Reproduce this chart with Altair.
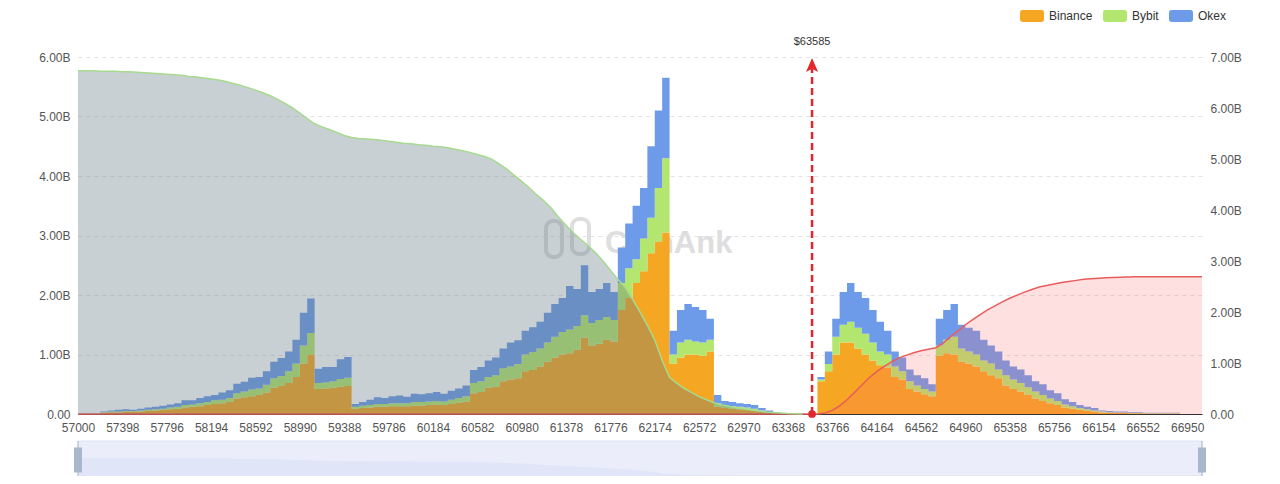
import altair as alt
import pandas as pd

FONT = "Liberation Sans"

# ---- price bins (category axis) ----
PRICE_START = 57000
PRICE_STEP = 398 / 6
N_BINS = 152
X_MAX = 67083
TICK_PRICES = [57000, 57398, 57796, 58194, 58592, 58990, 59388, 59786, 60184,
               60582, 60980, 61378, 61776, 62174, 62572, 62970, 63368, 63766,
               64164, 64562, 64960, 65358, 65756, 66154, 66552, 66950]
CURRENT_PRICE = 63585
EXCHANGES = ["Binance", "Bybit", "Okex"]
EXCHANGE_COLORS = ["#F5A623", "#B3E66F", "#6E9BE9"]

# ---- liquidation per bin (billions USD) ----
BINANCE = [0, 0, 0, .02, .03, .03, .04, .04, .04, .05, .06, .07, .08, .09, .11, .12, .13, .15, .17, .18,
           .20, .26, .28, .30, .32, .36, .44, .47, .52, .62, .85, 1.00, .42, .43, .44, .46, .47, .09, .10, .11,
           .12, .12, .13, .13, .13, .14, .14, .15, .16, .15, .17, .19, .21, .35, .37, .44, .46, .55, .58, .60,
           .72, .74, .80, .88, .95, 1.00, 1.02, 1.08, 1.28, 1.15, 1.18, 1.25, 1.22, 1.75, 1.95, 2.20, 2.40, 2.70, 2.90, 3.05,
           .85, .95, 1.00, 1.00, .98, 1.05, .12, .10, .09, .08, .07, .06, .04, .02, .01, 0, 0, 0, 0, 0,
           .55, .72, 1.00, 1.20, 1.20, 1.10, 1.00, .90, .82, .78, .62, .58, .42, .38, .33, .30, .98, 1.02, 1.00, .88,
           .85, .80, .72, .65, .60, .48, .42, .38, .32, .26, .22, .18, .15, .11, .09, .07, .05, .04, .025, .02,
           .015, .015, .012, .012, .008, .008, .008, .008, .008, 0, 0, 0]
BYBIT = [0, 0, 0, .01, .01, .01, .01, .01, .02, .02, .02, .02, .03, .03, .04, .04, .05, .05, .06, .06,
         .07, .09, .10, .11, .11, .13, .16, .17, .20, .23, .30, .36, .10, .10, .11, .13, .14, .03, .04, .04,
         .05, .05, .05, .05, .05, .06, .06, .06, .06, .06, .07, .08, .09, .17, .18, .18, .19, .22, .22, .24,
         .28, .30, .30, .32, .35, .38, .40, .40, .38, .38, .40, .38, .36, .45, .50, .40, .55, .60, .90, 1.25,
         .15, .25, .25, .22, .22, .20, .06, .04, .04, .04, .04, .03, .02, .01, .01, 0, 0, 0, 0, 0,
         .03, .12, .30, .30, .35, .35, .35, .30, .23, .22, .18, .14, .13, .10, .09, .08, .17, .23, .30, .22,
         .20, .20, .18, .20, .15, .17, .16, .14, .13, .12, .10, .08, .07, .05, .04, .03, .03, .02, .015, .01,
         .01, .01, .006, .006, .005, .005, .005, .005, .005, 0, 0, 0]
OKEX = [0, 0, 0, .01, .02, .03, .03, .02, .03, .04, .04, .05, .05, .06, .08, .07, .09, .10, .09, .12,
        .13, .16, .16, .20, .19, .23, .28, .30, .33, .40, .55, .58, .24, .26, .24, .33, .35, .05, .06, .09,
        .11, .10, .12, .13, .11, .14, .13, .14, .15, .13, .15, .16, .18, .22, .24, .28, .30, .33, .40, .40,
        .40, .42, .45, .50, .55, .57, .73, .62, .84, .52, .52, .57, .47, .60, .75, .90, .85, 1.20, 1.30, 1.35,
        .40, .55, .60, .58, .55, .35, .14, .08, .07, .06, .06, .06, .04, .03, .01, 0, 0, 0, 0, 0,
        .04, .21, .30, .55, .65, .60, .60, .55, .50, .40, .25, .23, .20, .17, .18, .12, .45, .50, .55, .40,
        .40, .40, .35, .30, .30, .25, .22, .23, .20, .17, .18, .14, .13, .09, .07, .05, .04, .04, .02, .02,
        .015, .015, .012, .012, .007, .007, .007, .007, .007, 0, 0, 0]

# ---- cumulative liquidation (billions USD, right axis) ----
LONG_CUM = [6.73, 6.73, 6.73, 6.72, 6.72, 6.72, 6.71, 6.71, 6.70, 6.69, 6.68, 6.67, 6.66, 6.65, 6.64,
            6.62, 6.61, 6.59, 6.57, 6.55, 6.52, 6.48, 6.44, 6.40, 6.35, 6.30, 6.24, 6.17, 6.09, 6.00,
            5.90, 5.79, 5.69, 5.63, 5.58, 5.52, 5.46, 5.42, 5.40, 5.39, 5.38, 5.37, 5.35, 5.33, 5.31,
            5.30, 5.28, 5.27, 5.25, 5.24, 5.22, 5.19, 5.16, 5.13, 5.09, 5.05, 4.99, 4.90, 4.80, 4.68,
            4.56, 4.44, 4.30, 4.18, 4.04, 3.86, 3.70, 3.55, 3.42, 3.30, 3.16, 3.00, 2.82, 2.64, 2.48,
            2.25, 2.00, 1.74, 1.45, 1.05, 0.72, 0.60, 0.50, 0.42, 0.34, 0.28, 0.22, 0.18, 0.15, 0.12,
            0.10, 0.08, 0.06, 0.04, 0.03, 0.02, 0.01, 0.005, 0]
SHORT_CUM = [0] * 101 + [0.02, 0.07, 0.16, 0.28, 0.42, 0.57, 0.71, 0.83, 0.93, 1.02, 1.10, 1.15, 1.20,
                         1.24, 1.27, 1.30, 1.39, 1.52, 1.63, 1.75, 1.85, 1.95, 2.04, 2.12, 2.20, 2.27,
                         2.33, 2.39, 2.44, 2.49, 2.52, 2.55, 2.58, 2.60, 2.62, 2.64, 2.65, 2.66, 2.67,
                         2.675, 2.68, 2.685, 2.69, 2.69, 2.69, 2.69, 2.69, 2.69, 2.69, 2.69, 2.69, 2.69]

prices = [PRICE_START + i * PRICE_STEP for i in range(N_BINS + 1)]

rows = []
for k, (name, vals) in enumerate(zip(EXCHANGES, [BINANCE, BYBIT, OKEX])):
    for i, v in enumerate(vals):
        rows.append({"price": prices[i], "exchange": name, "value": v, "ord": k})
bars_df = pd.DataFrame(rows)
long_df = pd.DataFrame({"price": prices[:len(LONG_CUM)], "cum": LONG_CUM})
short_df = pd.DataFrame({"price": prices[:len(SHORT_CUM)], "cum": SHORT_CUM})
cur_df = pd.DataFrame({"price": [CURRENT_PRICE], "label": [f"${CURRENT_PRICE}"]})
range_df = pd.DataFrame({"price": [PRICE_START, X_MAX]})
one_df = pd.DataFrame({"k": [0]})

W, H = 1124, 357
LABEL_COLOR = "#555555"

x_scale = alt.Scale(domain=[PRICE_START, X_MAX], nice=False, zero=False)
x_enc = alt.X("price:Q", scale=x_scale,
              axis=alt.Axis(values=TICK_PRICES, format="d", title=None, grid=False, ticks=False,
                            labelPadding=8, labelFontSize=12, labelFont=FONT, labelColor=LABEL_COLOR,
                            domainColor="#333333", domainWidth=1, labelOverlap=False, labelFlush=False))

ROUND_RECT = ("M-0.8,-0.5L0.8,-0.5Q1,-0.5,1,-0.3L1,0.3Q1,0.5,0.8,0.5L-0.8,0.5"
              "Q-1,0.5,-1,0.3L-1,-0.3Q-1,-0.5,-0.8,-0.5Z")

# watermark
WM = "#DEDEDE"
wm_text = alt.Chart(one_df).mark_text(
    text="CoinAnk", font=FONT, fontSize=31, fontWeight="bold", color=WM,
    align="left", baseline="middle").encode(x=alt.value(527), y=alt.value(187))
wm_logo1 = alt.Chart(one_df).mark_rect(fill=None, stroke=WM, strokeWidth=4, cornerRadius=7).encode(
    x=alt.value(468), x2=alt.value(484), y=alt.value(164), y2=alt.value(200))
wm_logo2 = alt.Chart(one_df).mark_rect(fill=None, stroke=WM, strokeWidth=4, cornerRadius=7).encode(
    x=alt.value(494), x2=alt.value(511), y=alt.value(162), y2=alt.value(197))

bars = alt.Chart(bars_df).mark_area(interpolate="step-after").encode(
    x=x_enc,
    y=alt.Y("value:Q", stack="zero",
            scale=alt.Scale(domain=[0, 6], nice=False),
            axis=alt.Axis(values=[0, 1, 2, 3, 4, 5, 6], orient="left", title=None,
                          labelExpr="datum.value == 0 ? '0.00' : format(datum.value, '.2f') + 'B'",
                          grid=True, gridDash=[4, 4], gridColor="#E3E3E3", domain=False, ticks=False,
                          labelPadding=8, labelFont=FONT, labelFontSize=12, labelColor=LABEL_COLOR)),
    color=alt.Color("exchange:N", sort=EXCHANGES,
                    scale=alt.Scale(domain=EXCHANGES, range=EXCHANGE_COLORS),
                    legend=alt.Legend(title=None, orient="none", legendX=942, legendY=-53,
                                      direction="horizontal", symbolType=ROUND_RECT, symbolSize=576,
                                      symbolStrokeWidth=0, symbolOpacity=1, labelFont=FONT,
                                      labelFontSize=12, labelColor="#333333", labelOffset=5,
                                      columnPadding=10, padding=0)),
    order=alt.Order("ord:Q", sort="ascending"),
)

pink = alt.Chart(short_df).mark_area(fill="#FF6464", fillOpacity=0.2,
                                     line={"color": "#E85C5C", "strokeWidth": 1.5}).encode(
    x=x_enc,
    y=alt.Y("cum:Q", scale=alt.Scale(domain=[0, 7], nice=False), axis=None))

gray = alt.Chart(long_df).mark_area(fill="#647882", fillOpacity=0.35,
                                    line={"color": "#A6DA8E", "strokeWidth": 1.5}).encode(
    x=x_enc,
    y=alt.Y("cum:Q", scale=alt.Scale(domain=[0, 7], nice=False),
            axis=alt.Axis(values=[0, 1, 2, 3, 4, 5, 6, 7], orient="right", title=None,
                          labelExpr="datum.value == 0 ? '0.00' : format(datum.value, '.2f') + 'B'",
                          grid=False, domain=False, ticks=False, labelPadding=8,
                          labelFont=FONT, labelFontSize=12, labelColor=LABEL_COLOR)))

RED = "#E3262C"
rule = alt.Chart(cur_df).mark_rule(color=RED, strokeWidth=2.5, strokeDash=[7, 4]).encode(
    x="price:Q", y=alt.value(H), y2=alt.value(12))
arrow = alt.Chart(cur_df).mark_point(shape="M0,-1L0.7,0.6L0,0.25L-0.7,0.6Z", filled=True,
                                     color=RED, size=300, opacity=1).encode(
    x="price:Q", y=alt.value(9.7))
dot = alt.Chart(cur_df).mark_point(shape="circle", filled=True, color=RED, size=60, opacity=1).encode(
    x="price:Q", y=alt.value(H))
label = alt.Chart(cur_df).mark_text(font=FONT, fontSize=11, color="#333333", baseline="middle").encode(
    x="price:Q", y=alt.value(-15), text="label:N")

# data-zoom slider below the axis
SL_TOP, SL_BOT = 384, 419
slider_bg = alt.Chart(one_df).mark_rect(fill="#EBEEFA", stroke="#DDE3F3", strokeWidth=1).encode(
    x=alt.value(0), x2=alt.value(W), y=alt.value(SL_TOP), y2=alt.value(SL_BOT))
slider_shadow = alt.Chart(long_df).mark_area(fill="#E0E5F7", fillOpacity=1).encode(
    x="price:Q",
    y=alt.Y("cum:Q", scale=alt.Scale(domain=[0, 7], range=[SL_BOT, SL_TOP + 16]), axis=None))
slider_lines = alt.Chart(range_df).mark_rule(color="#A7B7CC", strokeWidth=1).encode(
    x="price:Q", y=alt.value(SL_TOP), y2=alt.value(SL_BOT))
slider_handles = alt.Chart(range_df).mark_point(
    shape="M-0.32,-1L0.32,-1L0.32,1L-0.32,1Z", filled=True, color="#A7B7CC", size=625, opacity=1).encode(
    x="price:Q", y=alt.value(SL_TOP + 19))

chart = alt.layer(
    wm_logo1, wm_logo2, wm_text, bars, pink, gray,
    rule, arrow, dot, label,
    slider_bg, slider_shadow, slider_lines, slider_handles,
).resolve_scale(y="independent").properties(
    width=W, height=H,
    autosize=alt.AutoSizeParams(type="none"),
    padding={"left": 70, "top": 49, "right": 70, "bottom": 62},
    background="white",
).configure_view(stroke=None)

chart.save("out.html", embed_options={"renderer": "svg", "actions": False})
